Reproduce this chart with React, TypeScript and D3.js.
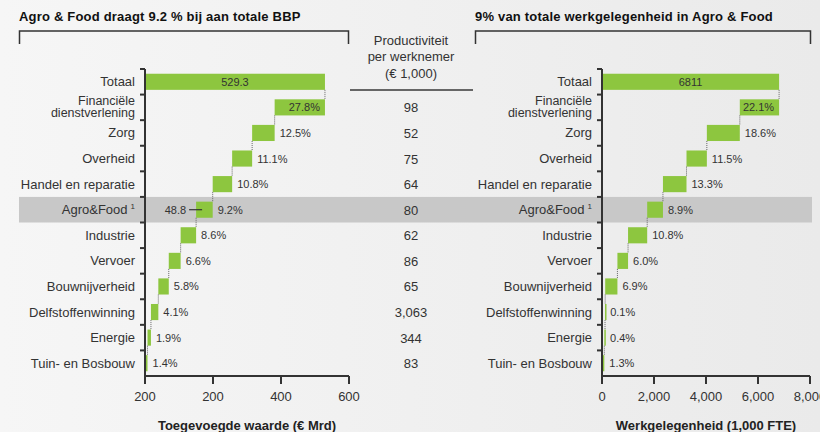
import React, { useEffect } from 'react';
import * as d3 from 'd3';

const categories = [
  'Totaal',
  'Financiële dienstverlening',
  'Zorg',
  'Overheid',
  'Handel en reparatie',
  'Agro&Food',
  'Industrie',
  'Vervoer',
  'Bouwnijverheid',
  'Delfstoffenwinning',
  'Energie',
  'Tuin- en Bosbouw',
];

// Toegevoegde waarde (€ Mrd): total first, then sector contributions
const gdpValues = [529.3, 148.0, 66.2, 58.8, 57.2, 48.8, 45.5, 34.9, 30.7, 21.7, 10.1, 7.4];
const gdpLabels = ['529.3', '27.8%', '12.5%', '11.1%', '10.8%', '9.2%', '8.6%', '6.6%', '5.8%', '4.1%', '1.9%', '1.4%'];
const gdpTicks = [0, 200, 400, 600];
const gdpTickLabels = ['200', '200', '400', '600'];

// Werkgelegenheid (1,000 FTE)
const jobValues = [6811, 1511, 1267, 783, 906, 606, 736, 409, 470, 7, 27, 89];
const jobLabels = ['6811', '22.1%', '18.6%', '11.5%', '13.3%', '8.9%', '10.8%', '6.0%', '6.9%', '0.1%', '0.4%', '1.3%'];
const jobTicks = [0, 2000, 4000, 6000, 8000];
const jobTickLabels = ['0', '2,000', '4,000', '6,000', '8,000'];

// Productiviteit per werknemer (€ 1,000), sectors only
const productivity = ['98', '52', '75', '64', '80', '62', '86', '65', '3,063', '344', '83'];

const FONT = '"Liberation Sans", Arial, sans-serif';
const GREEN = '#8dc63f';
const INK = '#333';
const HIGHLIGHT = 'Agro&Food';

const yBand = d3.scaleBand<string>()
  .domain(categories)
  .range([69, 376])
  .paddingInner(0.37)
  .paddingOuter(0.185);

interface PanelProps {
  values: number[];
  labels: string[];
  ticks: number[];
  tickLabels: string[];
  domainMax: number;
  x0: number;
  x1: number;
  axisTitle: string;
  agroLeftLabel?: string;
}

const Panel: React.FC<PanelProps> = ({ values, labels, ticks, tickLabels, domainMax, x0, x1, axisTitle, agroLeftLabel }) => {
  const x = d3.scaleLinear().domain([0, domainMax]).range([x0, x1]);
  const total = values[0];

  // waterfall segments
  const segs: { start: number; end: number }[] = [];
  let running = total;
  values.forEach((v, i) => {
    if (i === 0) {
      segs.push({ start: 0, end: total });
    } else {
      segs.push({ start: running - v, end: running });
      running -= v;
    }
  });

  const step = yBand.step();
  const top = yBand.range()[0];
  const bottom = yBand.range()[1];
  const bw = yBand.bandwidth();

  return (
    <g>
      {/* category labels */}
      {categories.map((c) => {
        const cy = (yBand(c) as number) + bw / 2;
        const lx = x0 - 10;
        if (c === 'Financiële dienstverlening') {
          return (
            <g key={c}>
              <text x={lx} y={cy - 2.5} textAnchor="end" fontSize={12.5} fill={INK} fontFamily={FONT}>Financiële</text>
              <text x={lx} y={cy + 10} textAnchor="end" fontSize={12.5} fill={INK} fontFamily={FONT}>dienstverlening</text>
            </g>
          );
        }
        if (c === HIGHLIGHT) {
          return (
            <text key={c} x={lx} y={cy + 4.5} textAnchor="end" fontSize={13} fill={INK} fontFamily={FONT}>
              Agro&amp;Food
              <tspan fontSize={8} dy={-5} dx={3}>1</tspan>
            </text>
          );
        }
        return (
          <text key={c} x={lx} y={cy + 4.5} textAnchor="end" fontSize={13} fill={INK} fontFamily={FONT}>
            {c}
          </text>
        );
      })}

      {/* bars */}
      {categories.map((c, i) => (
        <rect
          key={c}
          x={x(segs[i].start)}
          y={yBand(c) as number}
          width={Math.max(1.5, x(segs[i].end) - x(segs[i].start))}
          height={bw}
          fill={GREEN}
        />
      ))}

      {/* connectors */}
      {categories.slice(1).map((c, k) => {
        const prev = categories[k];
        const cx = x(segs[k + 1].end);
        return (
          <line
            key={c}
            x1={cx}
            x2={cx}
            y1={(yBand(prev) as number) + bw}
            y2={yBand(c) as number}
            stroke="#666"
            strokeWidth={1}
            strokeDasharray="1,1"
          />
        );
      })}

      {/* value labels */}
      {categories.map((c, i) => {
        const cy = (yBand(c) as number) + bw / 2 + 4;
        if (i === 0) {
          return (
            <text key={c} x={(x(segs[0].start) + x(segs[0].end)) / 2} y={cy} textAnchor="middle" fontSize={11} fill={INK} fontFamily={FONT}>
              {labels[i]}
            </text>
          );
        }
        if (i === 1) {
          return (
            <text key={c} x={x(segs[i].end) - 5} y={cy} textAnchor="end" fontSize={11} fill={INK} fontFamily={FONT}>
              {labels[i]}
            </text>
          );
        }
        return (
          <text key={c} x={x(segs[i].end) + 5} y={cy} textAnchor="start" fontSize={11} fill={INK} fontFamily={FONT}>
            {labels[i]}
          </text>
        );
      })}

      {agroLeftLabel && (() => {
        const i = categories.indexOf(HIGHLIGHT);
        const cy = (yBand(HIGHLIGHT) as number) + bw / 2;
        const sx = x(segs[i].start);
        return (
          <g>
            <line x1={sx - 7} x2={sx + 6} y1={cy} y2={cy} stroke={INK} strokeWidth={1.2} />
            <text x={sx - 10} y={cy + 4} textAnchor="end" fontSize={11} fill={INK} fontFamily={FONT}>
              {agroLeftLabel}
            </text>
          </g>
        );
      })()}

      {/* y axis */}
      <line x1={x0} x2={x0} y1={top} y2={bottom + 8} stroke={INK} strokeWidth={2} />
      {categories.map((c, i) => (
        <line key={c} x1={x0 - 5} x2={x0} y1={top + i * step} y2={top + i * step} stroke={INK} strokeWidth={2} />
      ))}

      {/* x axis */}
      <line x1={x0} x2={x1} y1={bottom} y2={bottom} stroke={INK} strokeWidth={2} />
      {ticks.map((t, i) => (
        <g key={t}>
          <line x1={x(t)} x2={x(t)} y1={bottom} y2={bottom + 8} stroke={INK} strokeWidth={2} />
          <text x={x(t)} y={bottom + 25} textAnchor="middle" fontSize={13} fill={INK} fontFamily={FONT}>
            {tickLabels[i]}
          </text>
        </g>
      ))}
      <text x={(x0 + x1) / 2} y={430} textAnchor="middle" fontSize={13} fontWeight="bold" fill="#222" fontFamily={FONT}>
        {axisTitle}
      </text>
    </g>
  );
};

const App: React.FC = () => {
  useEffect(() => {
    document.body.style.margin = '0';
  }, []);

  const bw = yBand.bandwidth();
  const agroY = (yBand(HIGHLIGHT) as number) - (yBand.step() - bw) / 2;

  return (
    <svg width={820} height={432} style={{ display: 'block' }}>
      <defs>
        <linearGradient id="bg" x1="0" x2="1" y1="0" y2="0">
          <stop offset="0%" stopColor="#f6f6f6" />
          <stop offset="100%" stopColor="#eaeaea" />
        </linearGradient>
      </defs>
      <rect x={0} y={0} width={820} height={432} fill="url(#bg)" />

      {/* highlighted row */}
      <rect x={19} y={agroY} width={793} height={yBand.step()} fill="#c8c8c8" />

      {/* titles and brackets */}
      <text x={19} y={21} fontSize={13} letterSpacing={0.2} fontWeight="bold" fill="#111" fontFamily={FONT}>
        Agro &amp; Food draagt 9.2 % bij aan totale BBP
      </text>
      <path d="M19.5,44 V31 H348.5 V44" fill="none" stroke={INK} strokeWidth={1.5} />
      <text x={475} y={21} fontSize={13} letterSpacing={0.2} fontWeight="bold" fill="#111" fontFamily={FONT}>
        9% van totale werkgelegenheid in Agro &amp; Food
      </text>
      <path d="M475.5,44 V31 H810.5 V44" fill="none" stroke={INK} strokeWidth={1.5} />

      {/* productivity column */}
      <text x={411} y={45} textAnchor="middle" fontSize={13} fill={INK} fontFamily={FONT}>Productiviteit</text>
      <text x={411} y={61} textAnchor="middle" fontSize={13} fill={INK} fontFamily={FONT}>per werknemer</text>
      <text x={411} y={78} textAnchor="middle" fontSize={13} fill={INK} fontFamily={FONT}>(€ 1,000)</text>
      <line x1={350} x2={473} y1={90} y2={90} stroke="#666" strokeWidth={2} />
      {categories.slice(1).map((c, i) => (
        <text key={c} x={411} y={(yBand(c) as number) + bw / 2 + 5} textAnchor="middle" fontSize={13} fill={INK} fontFamily={FONT}>
          {productivity[i]}
        </text>
      ))}

      <Panel
        values={gdpValues}
        labels={gdpLabels}
        ticks={gdpTicks}
        tickLabels={gdpTickLabels}
        domainMax={600}
        x0={145}
        x1={349}
        axisTitle="Toegevoegde waarde (€ Mrd)"
        agroLeftLabel="48.8"
      />
      <Panel
        values={jobValues}
        labels={jobLabels}
        ticks={jobTicks}
        tickLabels={jobTickLabels}
        domainMax={8000}
        x0={602}
        x1={810}
        axisTitle="Werkgelegenheid (1,000 FTE)"
      />
    </svg>
  );
};

export default App;
